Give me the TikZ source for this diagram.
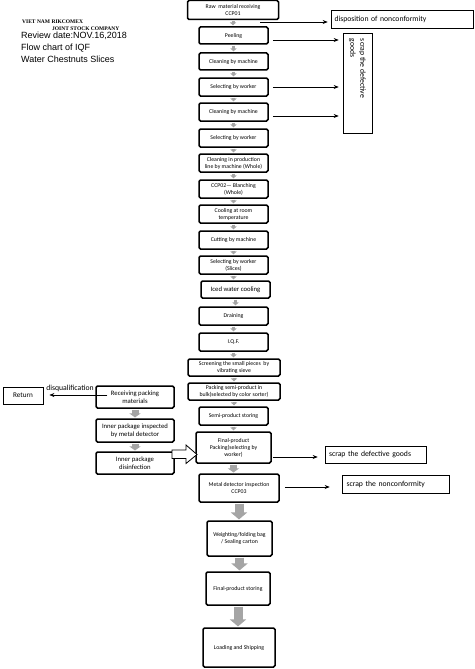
\documentclass[tikz,border=0pt]{standalone}
\usepackage{fontspec}
\setmainfont{Carlito}
\newfontfamily\arialfont{Liberation Sans}
\newfontfamily\timesfont{Liberation Serif}
\usetikzlibrary{arrows.meta}
\definecolor{arrowgray}{RGB}{165,165,165}
\begin{document}
\begin{tikzpicture}[x=1pt,y=-1pt,
    box/.style={draw, line width=1.5pt, rounded corners=1.5pt, align=center,
      inner sep=1pt, font=\fontsize{5.8}{7}\selectfont},
    sidebox/.style={draw, line width=0.6pt, align=left, inner sep=0pt,
      font=\fontsize{7.7}{9}\selectfont},
    flowarrow/.style={-{Stealth[length=5pt,width=4pt]}, line width=0.6pt},
    smallgray/.style={arrowgray, line width=3pt, -{Triangle[width=6pt,length=3pt]}},
    midgray/.style={arrowgray, line width=7pt, -{Triangle[width=11pt,length=4pt]}},
    biggray/.style={arrowgray, line width=9pt, -{Triangle[width=16pt,length=7pt]}}]
    \useasboundingbox (0,0) rectangle (474,669);

    % Header
    \node[anchor=west, inner sep=0pt, font=\timesfont\bfseries\fontsize{5.5}{6}\selectfont] (company1) at (22,22) {VIET NAM RIKCOMEX};
    \node[anchor=west, inner sep=0pt, font=\timesfont\bfseries\fontsize{5.5}{6}\selectfont] (company2) at (52,28.5) {JOINT STOCK COMPANY};
    \node[anchor=west, inner sep=0pt, font=\arialfont\fontsize{9}{10}\selectfont] (review) at (21,36) {Review date:NOV.16,2018};
    \node[anchor=west, inner sep=0pt, font=\arialfont\fontsize{9}{10}\selectfont] (title1) at (21,48) {Flow chart of IQF};
    \node[anchor=west, inner sep=0pt, font=\arialfont\fontsize{9}{10}\selectfont] (title2) at (21,59.5) {Water Chestnuts Slices};

    % Main process steps
    \node[box, minimum width=91, minimum height=19] (raw) at (233,10) {Raw\ \ material receiving\\CCP01};
    \node[box, minimum width=69, minimum height=17] (peel) at (233.5,35.5) {Peeling};
    \node[box, minimum width=69, minimum height=17] (clean1) at (233.5,61.5) {Cleaning by machine};
    \node[box, minimum width=69, minimum height=18] (sel1) at (233.5,87) {Selecting by worker};
    \node[box, minimum width=69, minimum height=18] (clean2) at (233.5,112) {Cleaning by machine};
    \node[box, minimum width=69, minimum height=18] (sel2) at (233.5,138) {Selecting by worker};
    \node[box, minimum width=69, minimum height=18] (cleanline) at (233.5,163) {Cleaning in production\\line by machine (Whole)};
    \node[box, minimum width=69, minimum height=18] (blanch) at (233.5,189) {CCP02--- Blanching\\(Whole)};
    \node[box, minimum width=69, minimum height=18] (cool) at (233.5,214) {Cooling at room\\temperature};
    \node[box, minimum width=69, minimum height=18] (cut) at (233.5,240) {Cutting by machine};
    \node[box, minimum width=69, minimum height=18] (sel3) at (233.5,265) {Selecting by worker\\(Slices)};
    \node[box, minimum width=69, minimum height=17, font=\fontsize{6.7}{7.5}\selectfont] (iced) at (235.5,289.5) {Iced water cooling};
    \node[box, minimum width=69, minimum height=18] (drain) at (233.5,316) {Draining};
    \node[box, minimum width=69, minimum height=18] (iqf) at (233.5,342) {I.Q.F.};
    \node[box, minimum width=92, minimum height=17] (screen) at (234,367.5) {Screening the small pieces\ \ by\\vibrating sieve};
    \node[box, minimum width=92, minimum height=17] (packsemi) at (234,391.5) {Packing semi-product in\\bulk(selected by color sorter)};
    \node[box, minimum width=69, minimum height=18] (semistore) at (233.5,416) {Semi-product storing};
    \node[box, minimum width=75, minimum height=31] (finalpack) at (233.5,447.5) {Final-product\\Packing(selecting by\\worker)};
    \node[box, minimum width=80, minimum height=28] (metal) at (239,488) {Metal detector inspection\\CCP03};
    \node[box, minimum width=65, minimum height=35] (weigh) at (239.5,538.5) {Weighting/folding bag\\/ Sealing carton};
    \node[box, minimum width=64, minimum height=33] (finalstore) at (238,588.5) {Final-product storing};
    \node[box, minimum width=72, minimum height=39] (loading) at (239,647.5) {Loading and Shipping};

    % Packing materials branch
    \node[box, minimum width=78, minimum height=22, font=\fontsize{6.7}{8}\selectfont] (recv) at (135,397) {Receiving packing\\materials};
    \node[box, minimum width=78, minimum height=23, font=\fontsize{6.7}{8}\selectfont] (inner) at (135,430.5) {Inner package inspected\\by metal detector};
    \node[box, minimum width=78, minimum height=22, font=\fontsize{6.7}{8}\selectfont] (disinf) at (135,463) {Inner package\\disinfection};
    \node[draw, line width=0.8pt, minimum width=40, minimum height=17, inner sep=0pt, font=\fontsize{7.2}{8}\selectfont] (ret) at (23,395.5) {Return};
    \node[inner sep=0pt, font=\fontsize{7.7}{8}\selectfont] (disq) at (70,388.5) {disqualification};

    % Side boxes
    \node[sidebox, minimum width=142, minimum height=18, text width=135pt, inner xsep=3.5pt] (disp) at (402,19) {disposition of nonconformity};
    \node[draw, line width=0.6pt, minimum width=29, minimum height=100, inner sep=0pt] (scrapv) at (357.5,83)
      {\rotatebox{-90}{\parbox{88pt}{\fontsize{7.7}{10}\selectfont scrap the defective\\goods}}};
    \node[sidebox, minimum width=101, minimum height=17, text width=93pt, inner xsep=4pt] (scrapgoods) at (375.5,454.5) {scrap the defective goods};
    \node[sidebox, minimum width=107, minimum height=18, text width=98pt, inner xsep=4.5pt] (scrapnon) at (395.5,484) {scrap the nonconformity};

    % Gray arrows down the line
    \foreach \a/\b in {raw/peel, peel/clean1, clean1/sel1, sel1/clean2, clean2/sel2,
        sel2/cleanline, cleanline/blanch, blanch/cool, cool/cut, cut/sel3, sel3/iced,
        iced/drain, drain/iqf, iqf/screen, screen/packsemi, packsemi/semistore, semistore/finalpack}
      \draw[smallgray, shorten <=0.8pt, shorten >=0.8pt] (\a.south) -- (\a.south |- \b.north);
    \foreach \a/\b in {finalpack/metal, recv/inner, inner/disinf}
      \draw[midgray, shorten <=0.8pt, shorten >=0.8pt] (\a.south) -- (\a.south |- \b.north);
    \foreach \a/\b in {metal/weigh, weigh/finalstore, finalstore/loading}
      \draw[biggray, shorten <=0.8pt, shorten >=0.8pt] (\a.south) -- (\a.south |- \b.north);

    % Arrows to the side boxes
    \coordinate (ccp1out) at (260,22);
    \draw[flowarrow, shorten >=3pt] (ccp1out) -- (ccp1out -| disp.west);
    \draw[flowarrow, shorten >=4pt] ([xshift=4pt,yshift=-4.5pt]peel.east) -- ([yshift=-4.5pt]peel.east -| scrapv.west);
    \draw[flowarrow, shorten >=4pt] ([xshift=4pt]sel1.east) -- (sel1.east -| scrapv.west);
    \draw[flowarrow, shorten >=4pt] ([xshift=4pt,yshift=-4pt]clean2.east) -- ([yshift=-4pt]clean2.east -| scrapv.west);
    \draw[flowarrow, shorten >=7pt] ([xshift=1pt,yshift=-9.5pt]finalpack.east) -- ([yshift=-9.5pt]finalpack.east -| scrapgoods.west);
    \draw[flowarrow, shorten >=12pt] ([xshift=5pt,yshift=1pt]metal.east) -- ([yshift=1pt]metal.east -| scrapnon.west);
    \draw[flowarrow, shorten >=6pt] ([xshift=12pt,yshift=2pt]recv.west) -- ([yshift=2pt]recv.west -| ret.east);

    % Open arrow into final packing
    \draw[line width=0.8pt, fill=white] (172,450) -- (186,450) -- (186,445) -- (197,454.5)
      -- (186,463.5) -- (186,458.5) -- (172,458.5) -- cycle;
\end{tikzpicture}
\end{document}
